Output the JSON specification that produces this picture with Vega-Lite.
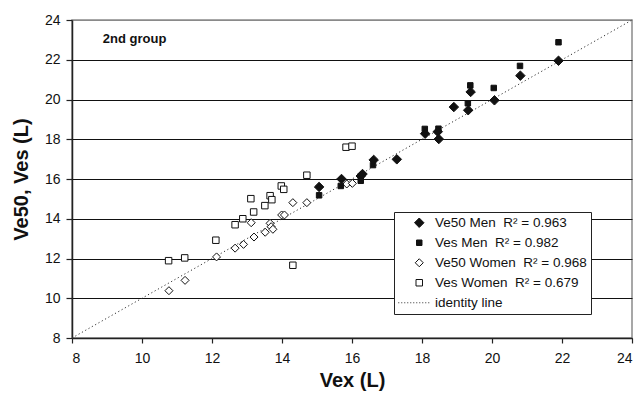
{
  "$schema": "https://vega.github.io/schema/vega-lite/v6.json",
  "width": 560,
  "height": 318,
  "autosize": {"type": "none"},
  "padding": {"left": 72, "top": 20, "right": 8, "bottom": 56},
  "background": "white",
  "config": {
    "font": "Liberation Sans",
    "view": {"stroke": "#8a8a8a", "strokeWidth": 1.5},
    "axis": {
      "labelFont": "Liberation Sans",
      "titleFont": "Liberation Sans",
      "labelFontSize": 14,
      "labelColor": "#111",
      "titleFontSize": 20,
      "titleFontWeight": "bold",
      "titleColor": "#111",
      "domainColor": "#222",
      "domainWidth": 1.5,
      "tickColor": "#222",
      "tickWidth": 1.2,
      "labelOverlap": false
    },
    "legend": {
      "labelFont": "Liberation Sans",
      "labelFontSize": 13.5,
      "labelColor": "#111",
      "strokeColor": "#222",
      "fillColor": "white",
      "padding": 4,
      "rowPadding": 5,
      "labelOffset": 9,
      "symbolOffset": 14.5,
      "symbolStrokeWidth": 1,
      "labelLimit": 400
    }
  },
  "datasets": {
    "pts": [
      {"vex": 10.76, "v": 11.89, "series": "Ves Women"},
      {"vex": 11.22, "v": 12.03, "series": "Ves Women"},
      {"vex": 12.11, "v": 12.92, "series": "Ves Women"},
      {"vex": 12.66, "v": 13.7, "series": "Ves Women"},
      {"vex": 12.88, "v": 14.0, "series": "Ves Women"},
      {"vex": 13.11, "v": 15.01, "series": "Ves Women"},
      {"vex": 13.19, "v": 14.34, "series": "Ves Women"},
      {"vex": 13.51, "v": 14.66, "series": "Ves Women"},
      {"vex": 13.66, "v": 15.16, "series": "Ves Women"},
      {"vex": 13.71, "v": 14.96, "series": "Ves Women"},
      {"vex": 13.98, "v": 15.65, "series": "Ves Women"},
      {"vex": 14.05, "v": 15.48, "series": "Ves Women"},
      {"vex": 14.31, "v": 11.66, "series": "Ves Women"},
      {"vex": 14.71, "v": 16.19, "series": "Ves Women"},
      {"vex": 15.83, "v": 17.6, "series": "Ves Women"},
      {"vex": 16.0, "v": 17.65, "series": "Ves Women"},
      {"vex": 10.77, "v": 10.38, "series": "Ve50 Women"},
      {"vex": 11.23, "v": 10.9, "series": "Ve50 Women"},
      {"vex": 12.13, "v": 12.08, "series": "Ve50 Women"},
      {"vex": 12.66, "v": 12.52, "series": "Ve50 Women"},
      {"vex": 12.9, "v": 12.71, "series": "Ve50 Women"},
      {"vex": 13.12, "v": 13.8, "series": "Ve50 Women"},
      {"vex": 13.2, "v": 13.08, "series": "Ve50 Women"},
      {"vex": 13.52, "v": 13.32, "series": "Ve50 Women"},
      {"vex": 13.66, "v": 13.77, "series": "Ve50 Women"},
      {"vex": 13.69, "v": 13.6, "series": "Ve50 Women"},
      {"vex": 13.74, "v": 13.47, "series": "Ve50 Women"},
      {"vex": 13.99, "v": 14.19, "series": "Ve50 Women"},
      {"vex": 14.07, "v": 14.19, "series": "Ve50 Women"},
      {"vex": 14.31, "v": 14.81, "series": "Ve50 Women"},
      {"vex": 14.71, "v": 14.81, "series": "Ve50 Women"},
      {"vex": 15.85, "v": 15.75, "series": "Ve50 Women"},
      {"vex": 16.01, "v": 15.78, "series": "Ve50 Women"},
      {"vex": 21.9, "v": 22.88, "series": "Ves Men"},
      {"vex": 20.8, "v": 21.69, "series": "Ves Men"},
      {"vex": 20.05, "v": 20.58, "series": "Ves Men"},
      {"vex": 19.38, "v": 20.71, "series": "Ves Men"},
      {"vex": 19.31, "v": 19.81, "series": "Ves Men"},
      {"vex": 18.08, "v": 18.52, "series": "Ves Men"},
      {"vex": 18.47, "v": 18.53, "series": "Ves Men"},
      {"vex": 16.6, "v": 16.7, "series": "Ves Men"},
      {"vex": 16.25, "v": 15.91, "series": "Ves Men"},
      {"vex": 15.68, "v": 15.65, "series": "Ves Men"},
      {"vex": 15.06, "v": 15.18, "series": "Ves Men"},
      {"vex": 21.9, "v": 21.95, "series": "Ve50 Men"},
      {"vex": 20.81, "v": 21.2, "series": "Ve50 Men"},
      {"vex": 20.07, "v": 19.96, "series": "Ve50 Men"},
      {"vex": 19.39, "v": 20.38, "series": "Ve50 Men"},
      {"vex": 19.32, "v": 19.46, "series": "Ve50 Men"},
      {"vex": 18.91, "v": 19.62, "series": "Ve50 Men"},
      {"vex": 18.09, "v": 18.28, "series": "Ve50 Men"},
      {"vex": 18.45, "v": 18.38, "series": "Ve50 Men"},
      {"vex": 18.48, "v": 18.01, "series": "Ve50 Men"},
      {"vex": 17.28, "v": 16.99, "series": "Ve50 Men"},
      {"vex": 16.62, "v": 16.96, "series": "Ve50 Men"},
      {"vex": 16.25, "v": 16.15, "series": "Ve50 Men"},
      {"vex": 16.3, "v": 16.25, "series": "Ve50 Men"},
      {"vex": 15.7, "v": 16.0, "series": "Ve50 Men"},
      {"vex": 15.06, "v": 15.6, "series": "Ve50 Men"}
    ],
    "identity": [
      {"vex": 8, "v": 8},
      {"vex": 24, "v": 24}
    ],
    "note": [
      {"vex": 8.88, "v": 22.86, "label": "2nd group"}
    ]
  },
  "encoding": {
    "x": {
      "field": "vex", "type": "quantitative",
      "scale": {"domain": [8, 24], "nice": false, "zero": false},
      "axis": {"values": [8, 10, 12, 14, 16, 18, 20, 22, 24], "grid": false, "tickSize": 5, "labelPadding": 8, "title": "Vex (L)", "titlePadding": 5}
    },
    "y": {
      "field": "v", "type": "quantitative",
      "scale": {"domain": [8, 24], "nice": false, "zero": false},
      "axis": {
        "values": [8, 10, 12, 14, 16, 18, 20, 22, 24], "grid": true,
        "gridColor": {"condition": {"test": "datum.value == 24", "value": "#8a8a8a"}, "value": "#111"},
        "gridWidth": 1.2, "tickSize": 6, "labelPadding": 6, "title": "Ve50, Ves (L)", "titlePadding": 13
      }
    }
  },
  "layer": [
    {
      "data": {"name": "identity"},
      "mark": {"type": "line", "color": "#333", "strokeWidth": 1, "strokeDash": [1.2, 2.6]},
      "encoding": {}
    },
    {
      "data": {"name": "note"},
      "mark": {"type": "text", "align": "left", "baseline": "alphabetic", "fontWeight": "bold", "fontSize": 13, "color": "#111"},
      "encoding": {
        "text": {"field": "label"}
      }
    },
    {
      "data": {"name": "pts"},
      "mark": {"type": "point", "opacity": 1, "strokeWidth": 1},
      "encoding": {
        "shape": {
          "field": "series", "type": "nominal",
          "scale": {"type": "ordinal", "domain": ["Ve50 Men", "Ves Men", "Ve50 Women", "Ves Women", "identity line"],
                    "range": ["diamond", "square", "diamond", "square", "M-3.5,0h0.17M-3,0h0.17M-2.5,0h0.17M-2,0h0.17M-1.5,0h0.17M-1,0h0.17M-0.5,0h0.17M0,0h0.17M0.5,0h0.17M1,0h0.17M1.5,0h0.17"]},
          "legend": {
            "title": null, "orient": "none", "legendX": 322, "legendY": 192,
            "labelExpr": "datum.label == 'identity line' ? 'identity line' : datum.label + '\u00a0 R² = ' + (datum.label == 'Ve50 Men' ? '0.963' : datum.label == 'Ves Men' ? '0.982' : datum.label == 'Ve50 Women' ? '0.968' : '0.679') + '\u00a0\u00a0\u00a0\u00a0\u00a0\u00a0\u00a0\u00a0\u00a0\u00a0\u00a0\u00a0\u00a0\u00a0\u00a0\u00a0\u00a0\u00a0\u00a0\u00a0\u00a0\u00a0'"
          }
        },
        "fill": {
          "field": "series", "type": "nominal",
          "scale": {"type": "ordinal", "domain": ["Ve50 Men", "Ves Men", "Ve50 Women", "Ves Women", "identity line"],
                    "range": ["#111", "#111", "white", "white", "transparent"]},
          "legend": {
            "title": null, "orient": "none", "legendX": 322, "legendY": 192,
            "labelExpr": "datum.label == 'identity line' ? 'identity line' : datum.label + '\u00a0 R² = ' + (datum.label == 'Ve50 Men' ? '0.963' : datum.label == 'Ves Men' ? '0.982' : datum.label == 'Ve50 Women' ? '0.968' : '0.679') + '\u00a0\u00a0\u00a0\u00a0\u00a0\u00a0\u00a0\u00a0\u00a0\u00a0\u00a0\u00a0\u00a0\u00a0\u00a0\u00a0\u00a0\u00a0\u00a0\u00a0\u00a0\u00a0'"
          }
        },
        "stroke": {
          "field": "series", "type": "nominal",
          "scale": {"type": "ordinal", "domain": ["Ve50 Men", "Ves Men", "Ve50 Women", "Ves Women", "identity line"],
                    "range": ["#111", "#111", "#111", "#111", "#333"]},
          "legend": {
            "title": null, "orient": "none", "legendX": 322, "legendY": 192,
            "labelExpr": "datum.label == 'identity line' ? 'identity line' : datum.label + '\u00a0 R² = ' + (datum.label == 'Ve50 Men' ? '0.963' : datum.label == 'Ves Men' ? '0.982' : datum.label == 'Ve50 Women' ? '0.968' : '0.679') + '\u00a0\u00a0\u00a0\u00a0\u00a0\u00a0\u00a0\u00a0\u00a0\u00a0\u00a0\u00a0\u00a0\u00a0\u00a0\u00a0\u00a0\u00a0\u00a0\u00a0\u00a0\u00a0'"
          }
        },
        "size": {
          "field": "series", "type": "nominal",
          "scale": {"type": "ordinal", "domain": ["Ve50 Men", "Ves Men", "Ve50 Women", "Ves Women", "identity line"],
                    "range": [90, 30, 64, 42, 144]},
          "legend": {
            "title": null, "orient": "none", "legendX": 322, "legendY": 192,
            "labelExpr": "datum.label == 'identity line' ? 'identity line' : datum.label + '\u00a0 R² = ' + (datum.label == 'Ve50 Men' ? '0.963' : datum.label == 'Ves Men' ? '0.982' : datum.label == 'Ve50 Women' ? '0.968' : '0.679') + '\u00a0\u00a0\u00a0\u00a0\u00a0\u00a0\u00a0\u00a0\u00a0\u00a0\u00a0\u00a0\u00a0\u00a0\u00a0\u00a0\u00a0\u00a0\u00a0\u00a0\u00a0\u00a0'"
          }
        }
      }
    }
  ]
}
